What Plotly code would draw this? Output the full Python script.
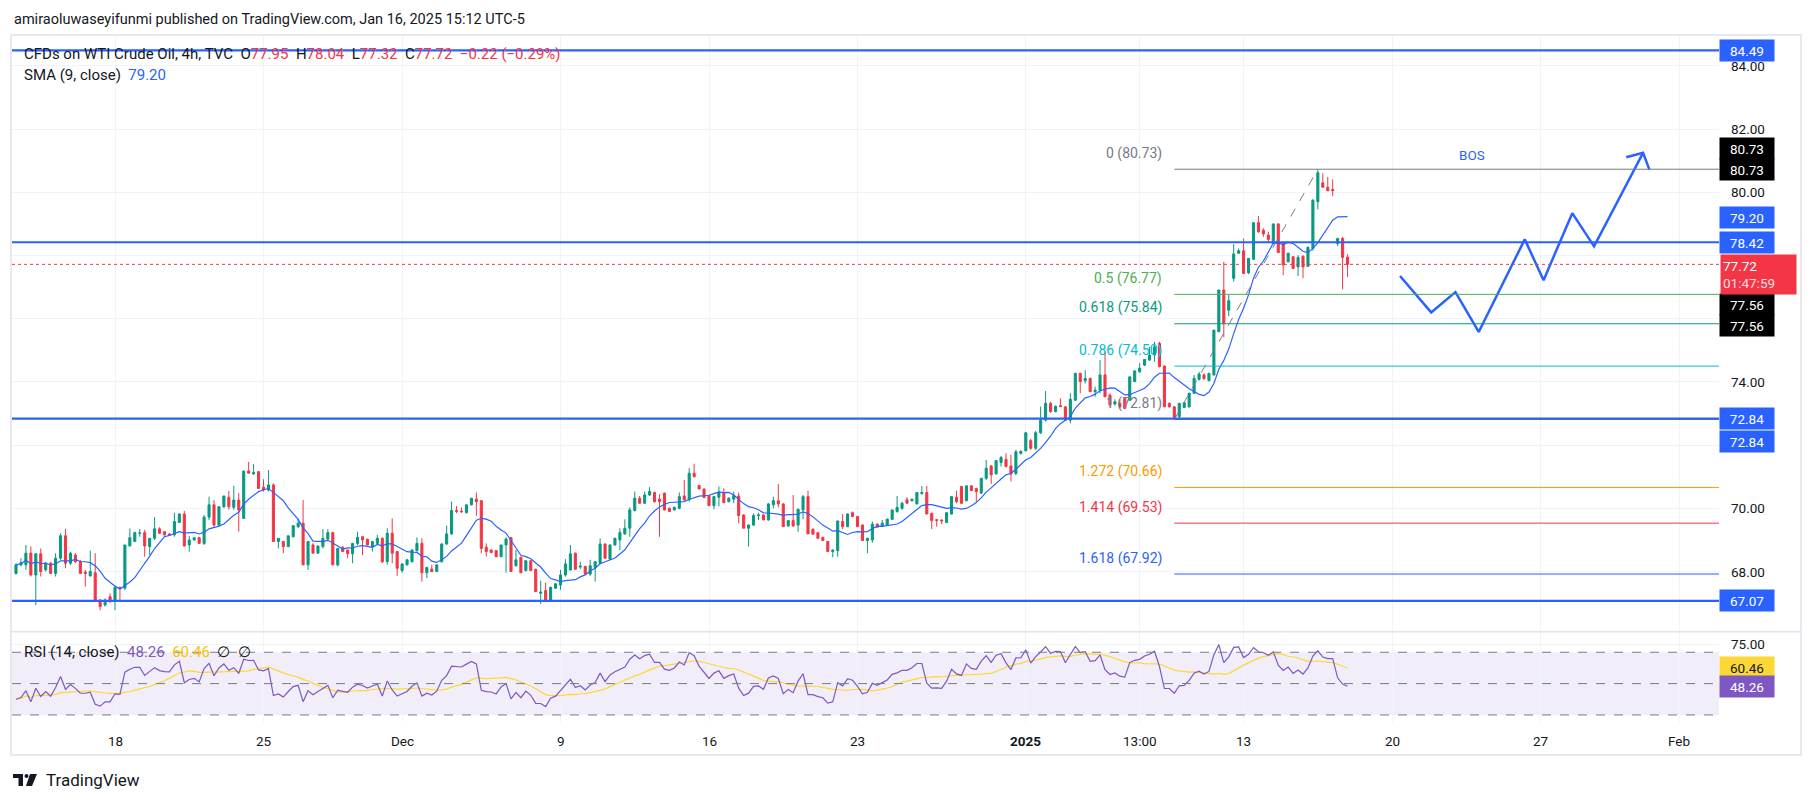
import plotly.graph_objects as go
import pandas as pd

# ---------------- data ----------------
opens = [
    67.94, 68.21, 68.21, 68.58, 67.89, 68.56, 68.05, 68.26, 67.94, 68.42,
    69.13, 68.26, 68.52, 68.31, 67.98, 67.86, 67.96, 67.10, 66.94, 67.20,
    67.10, 67.50, 67.47, 68.81, 68.95, 69.21, 69.23, 68.79, 69.05, 69.35,
    69.26, 69.19, 69.16, 69.55, 69.82, 68.84, 69.00, 69.07, 68.89, 69.72,
    70.11, 69.47, 70.05, 70.35, 70.03, 70.26, 69.68, 71.18, 71.09, 71.16,
    70.67, 70.58, 70.74, 68.95, 68.95, 68.79, 69.10, 69.42, 69.53, 68.21,
    68.84, 68.58, 68.79, 69.03, 69.23, 68.21, 68.77, 68.68, 68.56, 68.89,
    69.10, 69.02, 68.79, 68.89, 69.05, 68.31, 69.21, 68.63, 68.03, 68.21,
    68.31, 68.66, 68.89, 67.96, 68.08, 68.00, 68.31, 68.87, 69.19, 69.93,
    69.91, 69.86, 70.11, 70.29, 70.24, 68.77, 68.68, 68.66, 68.47, 68.84,
    69.07, 68.18, 68.45, 68.03, 68.34, 68.07, 67.31, 67.40, 67.08, 67.47,
    67.57, 67.89, 68.05, 68.58, 68.14, 68.16, 67.92, 68.13, 68.26, 68.87,
    68.39, 68.84, 69.00, 69.19, 69.37, 69.93, 70.32, 70.16, 70.42, 70.50,
    70.29, 70.48, 70.00, 69.95, 70.00, 70.39, 70.27, 71.11, 70.72, 70.61,
    70.40, 70.08, 70.35, 70.50, 70.21, 70.29, 70.39, 69.79, 69.37, 69.47,
    69.77, 69.79, 69.63, 70.11, 70.24, 70.14, 69.44, 69.61, 69.47, 69.95,
    70.37, 69.34, 69.23, 69.08, 68.95, 68.63, 68.66, 69.58, 69.42, 69.86,
    69.74, 69.47, 68.98, 69.00, 69.50, 69.44, 69.47, 69.65, 69.90, 70.00,
    70.27, 70.24, 70.14, 70.46, 70.50, 69.84, 69.64, 69.63, 69.55, 69.82,
    70.35, 70.69, 70.24, 70.71, 70.63, 70.48, 70.95, 71.34, 71.09, 71.45,
    71.55, 71.34, 71.10, 71.74, 71.82, 72.14, 71.90, 72.39, 72.79, 73.32,
    73.06, 73.25, 73.21, 72.79, 73.42, 74.27, 74.04, 74.11, 73.69, 73.74,
    74.22, 73.58, 73.30, 73.32, 73.48, 73.42, 74.01, 74.32, 74.53, 74.69,
    74.85, 75.22, 74.50, 73.32, 73.21, 72.90, 73.19, 73.21, 73.64, 74.08,
    74.22, 74.04, 74.22, 75.59, 76.91, 76.27, 77.28, 78.07, 78.15, 77.45,
    77.88, 79.04, 78.80, 78.65, 78.38, 79.00, 78.38, 77.80, 77.96, 77.64,
    77.98, 77.66, 78.22, 79.70, 80.30, 80.16, 80.09, 78.38, 78.54, 77.95,
]
highs = [
    68.26, 68.42, 68.84, 68.79, 68.58, 68.73, 68.31, 68.31, 68.58, 69.21,
    69.35, 68.63, 68.58, 68.37, 68.05, 68.66, 68.58, 67.12, 67.15, 67.31,
    67.50, 67.52, 68.84, 69.36, 69.26, 69.34, 69.32, 69.05, 69.72, 69.40,
    69.28, 69.21, 69.86, 69.84, 69.92, 69.13, 69.08, 69.10, 69.79, 70.37,
    70.26, 70.05, 70.39, 70.55, 70.71, 70.48, 71.18, 71.47, 71.40, 71.18,
    70.92, 71.21, 70.79, 69.05, 68.97, 69.13, 69.45, 69.68, 70.26, 68.95,
    68.90, 68.81, 69.34, 69.34, 69.26, 68.73, 68.80, 68.70, 68.89, 69.26,
    69.12, 69.04, 68.95, 69.16, 69.08, 69.37, 69.68, 68.65, 68.26, 68.40,
    68.70, 69.08, 69.05, 68.15, 68.21, 68.21, 68.89, 69.45, 70.21, 70.07,
    70.03, 70.11, 70.32, 70.50, 70.26, 68.89, 68.70, 68.68, 68.84, 69.08,
    69.10, 68.68, 68.47, 68.36, 68.36, 68.09, 67.71, 67.65, 67.52, 67.63,
    68.05, 68.39, 68.84, 68.60, 68.31, 68.18, 68.37, 68.33, 69.05, 68.89,
    68.86, 69.07, 69.37, 69.65, 70.03, 70.53, 70.39, 70.53, 70.67, 70.53,
    70.45, 70.50, 70.02, 70.05, 70.50, 70.90, 71.27, 71.41, 70.74, 70.63,
    70.42, 70.39, 70.69, 70.63, 70.35, 70.53, 70.50, 69.81, 69.49, 69.84,
    69.86, 69.81, 70.16, 70.37, 70.77, 70.16, 69.63, 70.42, 69.99, 70.42,
    70.56, 69.36, 69.25, 69.10, 68.97, 68.70, 69.61, 69.82, 69.84, 69.90,
    69.76, 69.49, 69.07, 69.58, 69.52, 69.63, 69.66, 69.95, 70.39, 70.21,
    70.35, 70.30, 70.50, 70.71, 70.71, 69.86, 69.65, 69.65, 69.88, 70.37,
    70.56, 70.71, 70.71, 70.73, 70.65, 70.95, 71.53, 71.37, 71.51, 71.66,
    71.74, 71.69, 71.85, 71.84, 72.42, 72.20, 72.45, 73.22, 73.71, 73.37,
    73.25, 73.48, 73.23, 73.64, 74.29, 74.29, 74.37, 74.13, 73.85, 74.69,
    74.96, 73.64, 73.45, 73.45, 73.50, 74.16, 74.35, 74.59, 74.72, 75.11,
    75.27, 75.27, 74.52, 73.35, 73.23, 73.34, 73.36, 73.66, 74.22, 74.32,
    74.27, 74.29, 75.64, 76.91, 77.80, 76.75, 78.36, 78.22, 78.54, 77.91,
    79.04, 79.25, 78.86, 78.75, 79.00, 79.02, 78.40, 78.09, 77.98, 78.01,
    78.00, 78.28, 79.78, 80.73, 80.60, 80.49, 80.41, 78.56, 78.59, 78.04,
]
lows = [
    67.90, 68.16, 68.05, 67.84, 66.94, 67.84, 68.00, 67.92, 67.84, 68.37,
    68.10, 68.21, 68.26, 67.92, 67.52, 67.84, 67.05, 66.78, 66.89, 67.00,
    66.78, 67.10, 67.42, 68.79, 68.95, 69.10, 68.47, 68.52, 69.00, 69.19,
    69.14, 69.13, 69.10, 69.55, 68.79, 68.63, 68.98, 68.87, 68.84, 69.63,
    69.42, 69.45, 70.00, 69.95, 69.95, 69.26, 69.68, 71.11, 71.06, 70.63,
    70.53, 70.53, 68.95, 68.73, 68.58, 68.77, 69.08, 69.37, 68.21, 68.05,
    68.58, 68.56, 68.73, 68.95, 68.21, 68.16, 68.63, 68.42, 68.26, 68.84,
    68.52, 68.84, 68.63, 68.84, 68.26, 68.21, 68.26, 67.86, 67.96, 68.19,
    68.28, 68.63, 67.68, 67.79, 68.00, 67.98, 68.28, 68.84, 69.16, 69.84,
    69.86, 69.84, 70.09, 69.76, 68.58, 68.47, 68.58, 68.45, 68.45, 67.96,
    68.00, 68.16, 67.96, 68.00, 68.03, 67.36, 66.97, 67.05, 67.05, 67.45,
    67.42, 67.84, 68.03, 68.07, 68.07, 67.92, 67.86, 67.68, 68.24, 68.42,
    68.37, 68.82, 68.68, 69.16, 69.10, 69.90, 70.14, 70.14, 70.39, 70.18,
    69.10, 69.93, 69.90, 69.93, 69.97, 70.24, 70.21, 70.98, 70.61, 70.34,
    70.08, 69.97, 70.06, 70.16, 70.19, 70.16, 69.53, 69.37, 68.79, 69.44,
    69.63, 69.63, 69.61, 70.00, 70.03, 69.42, 69.42, 69.42, 69.26, 69.65,
    69.19, 69.18, 69.05, 68.98, 68.63, 68.45, 68.47, 69.34, 69.40, 69.72,
    69.42, 68.98, 68.58, 68.91, 69.40, 69.42, 69.45, 69.63, 69.86, 69.95,
    70.16, 70.22, 70.12, 70.44, 69.82, 69.34, 69.42, 69.50, 69.53, 69.80,
    70.16, 70.14, 70.22, 70.56, 70.21, 70.46, 70.90, 70.77, 71.07, 71.32,
    71.30, 70.85, 71.05, 71.70, 71.80, 71.85, 71.84, 72.35, 72.75, 73.02,
    73.04, 73.20, 72.79, 72.69, 73.40, 73.64, 73.95, 73.69, 73.53, 73.64,
    73.53, 73.20, 73.25, 73.16, 73.16, 73.40, 73.99, 74.29, 74.50, 74.67,
    74.64, 74.46, 73.21, 73.19, 72.86, 72.85, 73.17, 73.19, 73.62, 74.04,
    74.06, 74.02, 74.20, 75.57, 75.41, 76.08, 77.17, 78.05, 77.43, 77.41,
    77.86, 78.72, 78.59, 78.40, 78.36, 78.09, 77.38, 77.78, 77.59, 77.35,
    77.28, 77.64, 78.15, 79.46, 80.16, 80.05, 79.88, 78.30, 76.93, 77.32,
]
closes = [
    68.21, 68.28, 68.58, 67.89, 68.56, 68.00, 68.26, 67.94, 68.42, 69.13,
    68.26, 68.58, 68.31, 67.94, 67.94, 68.00, 67.05, 66.89, 67.10, 67.10,
    67.50, 67.47, 68.84, 69.07, 69.23, 69.22, 68.81, 69.05, 69.35, 69.21,
    69.16, 69.15, 69.58, 69.82, 68.81, 69.00, 69.07, 68.89, 69.72, 70.11,
    69.47, 70.05, 70.39, 70.05, 70.26, 69.95, 71.18, 71.11, 71.13, 70.63,
    70.58, 70.74, 68.95, 69.05, 68.79, 69.13, 69.45, 69.53, 68.21, 68.95,
    68.58, 68.81, 69.05, 69.23, 68.21, 68.73, 68.63, 68.56, 68.89, 69.08,
    69.00, 68.84, 68.95, 69.05, 68.31, 69.21, 68.58, 68.10, 68.24, 68.37,
    68.68, 68.89, 67.96, 68.13, 68.00, 68.21, 68.87, 69.19, 69.93, 69.90,
    69.89, 70.11, 70.32, 70.21, 68.73, 68.63, 68.60, 68.47, 68.84, 69.03,
    68.00, 68.37, 67.96, 68.34, 68.03, 67.36, 67.35, 67.08, 67.50, 67.61,
    67.89, 68.24, 68.56, 68.07, 68.17, 67.92, 68.18, 68.31, 68.87, 68.42,
    68.84, 69.05, 69.23, 69.37, 69.95, 70.32, 70.16, 70.42, 70.53, 70.21,
    70.21, 69.95, 69.90, 70.03, 70.37, 70.27, 71.11, 71.00, 70.61, 70.34,
    70.08, 70.37, 70.50, 70.18, 70.32, 70.40, 69.77, 69.37, 69.47, 69.77,
    69.79, 69.63, 70.14, 70.24, 70.14, 69.42, 69.61, 69.44, 69.97, 70.37,
    69.19, 69.18, 69.05, 68.98, 68.63, 68.68, 69.60, 69.42, 69.82, 69.74,
    69.42, 68.98, 69.05, 69.50, 69.40, 69.53, 69.66, 69.95, 70.03, 70.16,
    70.16, 70.29, 70.50, 70.50, 69.82, 69.61, 69.62, 69.60, 69.86, 70.37,
    70.21, 70.16, 70.71, 70.56, 70.53, 70.95, 71.27, 71.06, 71.51, 71.61,
    71.32, 71.09, 71.79, 71.80, 72.39, 71.90, 72.39, 72.79, 73.32, 73.06,
    73.23, 73.22, 72.79, 73.45, 74.27, 74.01, 74.11, 73.69, 73.74, 74.22,
    73.53, 73.27, 73.37, 73.21, 73.16, 74.16, 74.35, 74.43, 74.71, 74.85,
    75.11, 74.48, 73.21, 73.21, 72.88, 73.32, 73.34, 73.64, 74.11, 74.25,
    74.11, 74.27, 75.64, 76.91, 75.85, 76.57, 78.05, 78.15, 77.43, 77.91,
    79.04, 78.75, 78.68, 78.51, 79.00, 78.09, 77.70, 78.07, 77.59, 77.94,
    77.64, 78.26, 79.75, 80.62, 80.16, 80.05, 80.05, 78.54, 77.94, 77.72,
]

tick_index = [20, 50, 78, 110, 140, 170, 204, 227, 248, 278, 308, 336]
tick_text = ["18", "25", "Dec", "9", "16", "23", "<b>2025</b>", "13:00", "13", "20", "27", "Feb"]

price_labels = [68, 70, 74, 80, 82, 84]
price_grid = [68, 70, 72, 74, 76, 78, 80, 82, 84]

levels = [84.49, 78.42, 72.84, 67.07]

fib_ratio = [0, 0.5, 0.618, 0.786, 1, 1.272, 1.414, 1.618]
fib_price = [80.73, 76.77, 75.84, 74.50, 72.81, 70.66, 69.53, 67.92]
fib_color = ["#787B86", "#4CAF50", "#089981", "#00BCD4", "#787B86", "#FF9800", "#F23645", "#2962FF"]
fib_low_bar, fib_high_bar = 234, 263

last_price = 77.72
pct_change = -0.29
sma_value = 79.20
rsi_value, rsi_ma_value = 48.26, 60.46
rsi_seed_gain, rsi_seed_loss = 0.12, 0.18

proj_index = [279.6, 285.9, 290.8, 295.5, 304.8, 308.6, 314.4, 318.8, 328.7]
proj_price = [77.35, 76.20, 76.84, 75.58, 78.51, 77.22, 79.34, 78.29, 81.25]
arrow_index = [325.3, 328.7, 330.0]
arrow_price = [81.11, 81.25, 80.71]
bos_index, bos_price = 294.1, 81.18

# ---------------- indicators ----------------
idx = list(range(len(closes)))
sma = pd.Series(closes).rolling(9, min_periods=1).mean()
ag, al = rsi_seed_gain, rsi_seed_loss
rsi = []
prev = None
for c in closes:
    if prev is not None:
        ch = c - prev
        ag = (ag * 13 + max(ch, 0)) / 14
        al = (al * 13 + max(-ch, 0)) / 14
    rsi.append(100 - 100 / (1 + ag / al))
    prev = c
rsi_ma = pd.Series(rsi).rolling(14, min_periods=1).mean()

# ---------------- layout geometry (pixels) ----------------
W, H = 1814, 802
FONT = "Roboto, Arial, sans-serif"
PL, PR = 12, 1719
MT, MB, RB = 36, 631.7, 722
BAR0, BARW = 16, 4.95
PY80, PXU = 192.3, 31.6
R50, RXU = 683.6, 1.567


def px(v):
    return v / W


def py(v):
    return 1 - v / H


x_lo = (PL - BAR0) / BARW
x_hi = (PR - BAR0) / BARW
y_hi = 80 + (PY80 - MT) / PXU
y_lo = 80 - (MB - PY80) / PXU
r_hi = 50 + (R50 - MB) / RXU
r_lo = 50 - (RB - R50) / RXU

fig = go.Figure()

fig.add_trace(go.Candlestick(
    x=idx, open=opens, high=highs, low=lows, close=closes,
    increasing=dict(line=dict(color="#089981", width=1), fillcolor="#089981"),
    decreasing=dict(line=dict(color="#F23645", width=1), fillcolor="#F23645"),
    whiskerwidth=0, hoverinfo="skip", showlegend=False, xaxis="x", yaxis="y"))
fig.add_trace(go.Scatter(x=idx, y=sma, mode="lines", line=dict(color="#2962FF", width=1.2),
                         hoverinfo="skip", showlegend=False, xaxis="x", yaxis="y"))
fig.add_trace(go.Scatter(x=proj_index, y=proj_price, mode="lines", line=dict(color="#2962FF", width=2.5),
                         hoverinfo="skip", showlegend=False, xaxis="x", yaxis="y"))
fig.add_trace(go.Scatter(x=arrow_index, y=arrow_price, mode="lines", line=dict(color="#2962FF", width=2.5),
                         hoverinfo="skip", showlegend=False, xaxis="x", yaxis="y"))
fig.add_trace(go.Scatter(x=idx, y=rsi_ma, mode="lines", line=dict(color="#FDD835", width=1.2),
                         hoverinfo="skip", showlegend=False, xaxis="x2", yaxis="y2"))
fig.add_trace(go.Scatter(x=idx, y=rsi, mode="lines", line=dict(color="#7E57C2", width=1.2),
                         hoverinfo="skip", showlegend=False, xaxis="x2", yaxis="y2"))

shapes = []
# RSI band and guide lines
shapes.append(dict(type="rect", xref="paper", yref="y2", x0=px(PL), x1=px(PR), y0=30, y1=70,
                   fillcolor="rgba(126,87,194,0.10)", line=dict(width=0), layer="below"))
for lv in (70, 50, 30):
    shapes.append(dict(type="line", xref="paper", yref="y2", x0=px(PL), x1=px(PR), y0=lv, y1=lv,
                       line=dict(color="#787B86", width=1, dash="dash")))
# fib retracement
for p, c in zip(fib_price, fib_color):
    shapes.append(dict(type="line", xref="x", yref="y", x0=fib_low_bar, x1=x_hi, y0=p, y1=p,
                       line=dict(color=c, width=1)))
shapes.append(dict(type="line", xref="x", yref="y", x0=fib_low_bar, x1=fib_high_bar,
                   y0=fib_price[4], y1=fib_price[0], line=dict(color="#787B86", width=1, dash="dash")))
# current price dotted line
shapes.append(dict(type="line", xref="paper", yref="y", x0=px(PL), x1=px(PR), y0=last_price, y1=last_price,
                   line=dict(color="#F23645", width=1, dash="dot")))
# horizontal levels
for lv in levels:
    shapes.append(dict(type="line", xref="paper", yref="y", x0=px(PL), x1=px(PR), y0=lv, y1=lv,
                       line=dict(color="#2962FF", width=2.2)))
# frame and pane separator
shapes.append(dict(type="rect", xref="paper", yref="paper", x0=px(11), x1=px(1801), y0=py(755), y1=py(35),
                   line=dict(color="#E6E9F0", width=2), fillcolor="rgba(0,0,0,0)", layer="below"))
shapes.append(dict(type="line", xref="paper", yref="paper", x0=px(11), x1=px(1801), y0=py(MB), y1=py(MB),
                   line=dict(color="#E0E3EB", width=1.5)))
# TradingView logo
shapes.append(dict(type="rect", xref="paper", yref="paper", x0=px(13), x1=px(23), y0=py(778), y1=py(774),
                   fillcolor="#131722", line=dict(width=0)))
shapes.append(dict(type="rect", xref="paper", yref="paper", x0=px(18.5), x1=px(23), y0=py(786), y1=py(774),
                   fillcolor="#131722", line=dict(width=0)))
shapes.append(dict(type="circle", xref="paper", yref="paper", x0=px(24.5), x1=px(28.5), y0=py(778), y1=py(774),
                   fillcolor="#131722", line=dict(width=0)))
shapes.append(dict(type="path", xref="paper", yref="paper",
                   path=f"M {px(30)},{py(774)} L {px(37)},{py(774)} L {px(32)},{py(786)} L {px(26)},{py(786)} Z",
                   fillcolor="#131722", line=dict(width=0)))

ann = []


def text_ann(x, y, text, size=13.5, color="#131722", xanchor="left", xref="paper", yref="paper", **kw):
    d = dict(x=x, y=y, xref=xref, yref=yref, text=text, showarrow=False, xanchor=xanchor, yanchor="middle",
             font=dict(family=FONT, size=size, color=color))
    d.update(kw)
    ann.append(d)


RED, BLUE = "#F23645", "#2962FF"


def col(t, c):
    return f"<span style='color:{c}'>{t}</span>"


sp = "\u00a0\u00a0"
chg = closes[-1] - closes[-2]
text_ann(px(12), py(19.5), "amiraoluwaseyifunmi published on TradingView.com, Jan 16, 2025 15:12 UTC-5", size=14.5)
text_ann(px(22), py(54), "CFDs on WTI Crude Oil, 4h, TVC" + sp + "O" + col(f"{opens[-1]:.2f}", RED) + sp + "H" +
         col(f"{highs[-1]:.2f}", RED) + sp + "L" + col(f"{lows[-1]:.2f}", RED) + sp + "C" +
         col(f"{closes[-1]:.2f}", RED) + sp +
         col(f"\u2212{abs(chg):.2f} (\u2212{abs(pct_change):.2f}%)", RED), size=15)
text_ann(px(22), py(75), "SMA (9, close)" + sp + col(f"{sma_value:.2f}", BLUE), size=15)
text_ann(px(22), py(652), "RSI (14, close)" + sp + col(f"{rsi_value:.2f}", "#7E57C2") + sp +
         col(f"{rsi_ma_value:.2f}", "#F5C400") + sp + "\u2205" + sp + "\u2205", size=15)
text_ann(px(44), py(780), "TradingView", size=17)

# fib labels
for r, p, c in zip(fib_ratio, fib_price, fib_color):
    text_ann(fib_low_bar, p, f"{r:g} ({p:.2f})", size=14, color=c, xanchor="right", xref="x", yref="y",
             xshift=-10, yshift=16)
text_ann(bos_index, bos_price, "BOS", size=13.5, color=BLUE, xanchor="center", xref="x", yref="y")

# price scale labels
for v in price_labels:
    text_ann(px(1748), v, f"{v:.2f}", xanchor="center", yref="y")
text_ann(px(1748), 75, "75.00", xanchor="center", yref="y2")
# time labels
for t, s in zip(tick_index, tick_text):
    text_ann(t, py(740.5), s, xanchor="center", xref="x")


def tag(text, val, yref, bg, fg, yshift=0):
    ann.append(dict(x=px(1747), xref="paper", xanchor="center", y=val, yref=yref, yanchor="middle",
                    yshift=yshift, text=text, showarrow=False, bgcolor=bg, width=50, height=17, borderpad=2,
                    font=dict(family=FONT, size=13.5, color=fg)))


tag(f"{levels[0]:.2f}", levels[0], "y", BLUE, "white")
tag(f"{fib_price[0]:.2f}", fib_price[0], "y", "#000000", "white", 21)
tag(f"{fib_price[0]:.2f}", fib_price[0], "y", "#000000", "white")
tag(f"{sma_value:.2f}", sma_value, "y", BLUE, "white")
tag(f"{levels[1]:.2f}", levels[1], "y", BLUE, "white")
tag("77.56", 77.56, "y", "#000000", "white", -34.6)
tag("77.56", 77.56, "y", "#000000", "white", -55.6)
tag(f"{levels[2]:.2f}", levels[2], "y", BLUE, "white")
tag(f"{levels[2]:.2f}", levels[2], "y", BLUE, "white", -22.7)
tag(f"{levels[3]:.2f}", levels[3], "y", BLUE, "white")
tag(f"{rsi_ma_value:.2f}", rsi_ma_value, "y2", "#FDD835", "#131722")
tag(f"{rsi_value:.2f}", rsi_value, "y2", "#7E57C2", "white")
ann.append(dict(x=px(1720), xref="paper", xanchor="left", y=last_price, yref="y", yanchor="top", yshift=10,
                text=f"{last_price:.2f}<br><span style='color:#FFDDE0'>01:47:59</span>", showarrow=False,
                align="left", bgcolor=RED, width=71, height=35, borderpad=2,
                font=dict(family=FONT, size=13.5, color="white")))

axis_common = dict(showline=False, zeroline=False, showticklabels=False, ticks="",
                   gridcolor="#F0F3FA", gridwidth=1, showgrid=True)
fig.update_layout(
    width=W, height=H, margin=dict(l=0, r=0, t=0, b=0), paper_bgcolor="white", plot_bgcolor="white",
    boxgap=0.4, showlegend=False, hovermode=False, dragmode=False,
    xaxis=dict(domain=[px(PL), px(PR)], range=[x_lo, x_hi], anchor="y", tickmode="array", tickvals=tick_index,
               rangeslider=dict(visible=False), **axis_common),
    xaxis2=dict(domain=[px(PL), px(PR)], range=[x_lo, x_hi], anchor="y2", matches="x", tickmode="array",
                tickvals=tick_index, **axis_common),
    yaxis=dict(domain=[py(MB), py(MT)], range=[y_lo, y_hi], anchor="x", tickmode="array", tickvals=price_grid,
               **axis_common),
    yaxis2=dict(domain=[py(RB), py(MB)], range=[r_lo, r_hi], anchor="x2", tickmode="array", tickvals=[75],
                **axis_common),
    shapes=shapes, annotations=ann,
)

fig.write_html("out.html", config={"displayModeBar": False, "staticPlot": True},
               post_script="document.body.style.margin='0';document.body.style.overflow='hidden';")
